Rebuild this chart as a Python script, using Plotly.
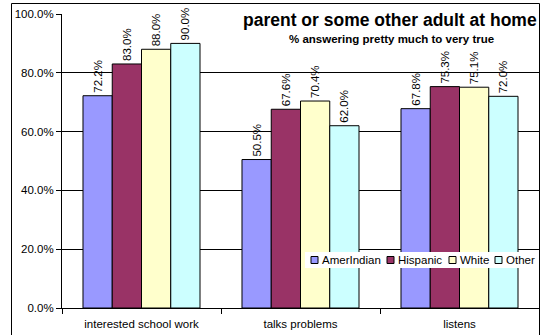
import plotly.graph_objects as go

# Survey results: share answering "pretty much" to "very true"
categories = ["interested school work", "talks problems", "listens"]
series_names = ["AmerIndian", "Hispanic", "White", "Other"]
amerindian = [72.2, 50.5, 67.8]
hispanic = [83.0, 67.6, 75.3]
white = [88.0, 70.4, 75.1]
other = [90.0, 62.0, 72.0]
series_values = [amerindian, hispanic, white, other]
colors = ["#9999FF", "#993366", "#FFFFCC", "#CCFFFF"]
y_ticks = [0, 20, 40, 60, 80, 100]

FONT = "Liberation Sans, Arial, sans-serif"
W, H = 544, 335
ML, MR, MT, MB = 62, 5, 14, 27
PW, PH = W - ML - MR, H - MT - MB


def px_x(x):
    return (x - ML) / PW


def px_y(y):
    return (H - MB - y) / PH


fig = go.Figure()
for name, vals, col in zip(series_names, series_values, colors):
    fig.add_trace(go.Bar(
        name=name,
        x=categories,
        y=[v / 100 for v in vals],
        marker=dict(color=col, line=dict(color="black", width=1)),
        text=[f"{v:.1f}%" for v in vals],
        textposition="outside",
        textangle=-90,
        constraintext="none",
        cliponaxis=False,
        textfont=dict(family=FONT, size=11.5, color="black"),
        showlegend=False,
    ))

shapes = [
    # chart frame
    dict(type="rect", xref="paper", yref="paper",
         x0=px_x(11.5), x1=px_x(539.5), y0=px_y(345), y1=px_y(3.5),
         line=dict(color="black", width=1), fillcolor="rgba(0,0,0,0)",
         layer="above"),
    # legend background
    dict(type="rect", xref="paper", yref="paper",
         x0=px_x(305), x1=px_x(539), y0=px_y(268), y1=px_y(252),
         line=dict(width=0), fillcolor="white", layer="above"),
]
annotations = [
    dict(text="<b>parent or some other adult at home</b>", xref="paper", yref="paper",
         x=px_x(390), y=px_y(20), xanchor="center", yanchor="middle",
         showarrow=False, font=dict(family=FONT, size=17.5, color="black")),
    dict(text="<b>% answering pretty much to very true</b>", xref="paper", yref="paper",
         x=px_x(391), y=px_y(38.5), xanchor="center", yanchor="middle",
         showarrow=False, font=dict(family=FONT, size=11.5, color="black")),
]

# legend entries: swatch + label
swatch_x = [311, 387, 449, 495]
for name, col, sx in zip(series_names, colors, swatch_x):
    shapes.append(dict(type="rect", xref="paper", yref="paper",
                       x0=px_x(sx), x1=px_x(sx + 7), y0=px_y(263.5), y1=px_y(256.5),
                       line=dict(color="black", width=1), fillcolor=col, layer="above"))
    annotations.append(dict(text=name, xref="paper", yref="paper",
                            x=px_x(sx + 9), y=px_y(260), xanchor="left", yanchor="middle",
                            showarrow=False, font=dict(family=FONT, size=11.5, color="black")))

fig.update_layout(
    width=W, height=H, autosize=False,
    margin=dict(l=ML, r=MR, t=MT, b=MB, pad=0),
    paper_bgcolor="white", plot_bgcolor="white",
    barmode="group", bargap=0.264, bargroupgap=0,
    font=dict(family=FONT, size=11.5, color="black"),
    shapes=shapes, annotations=annotations,
    xaxis=dict(showline=True, linecolor="black", linewidth=1, showgrid=False,
               ticks="outside", tickson="boundaries", ticklen=5, tickcolor="black",
               ticklabelstandoff=5,
               tickfont=dict(family=FONT, size=11.5, color="black")),
    yaxis=dict(range=[0, 1], tickvals=[t / 100 for t in y_ticks], tickformat=".1%",
               showline=True, linecolor="black", linewidth=1,
               showgrid=True, gridcolor="black", gridwidth=1,
               ticks="outside", ticklen=5, tickcolor="black", zeroline=False,
               tickfont=dict(family=FONT, size=11.5, color="black")),
)

fig.write_html("out.html")
